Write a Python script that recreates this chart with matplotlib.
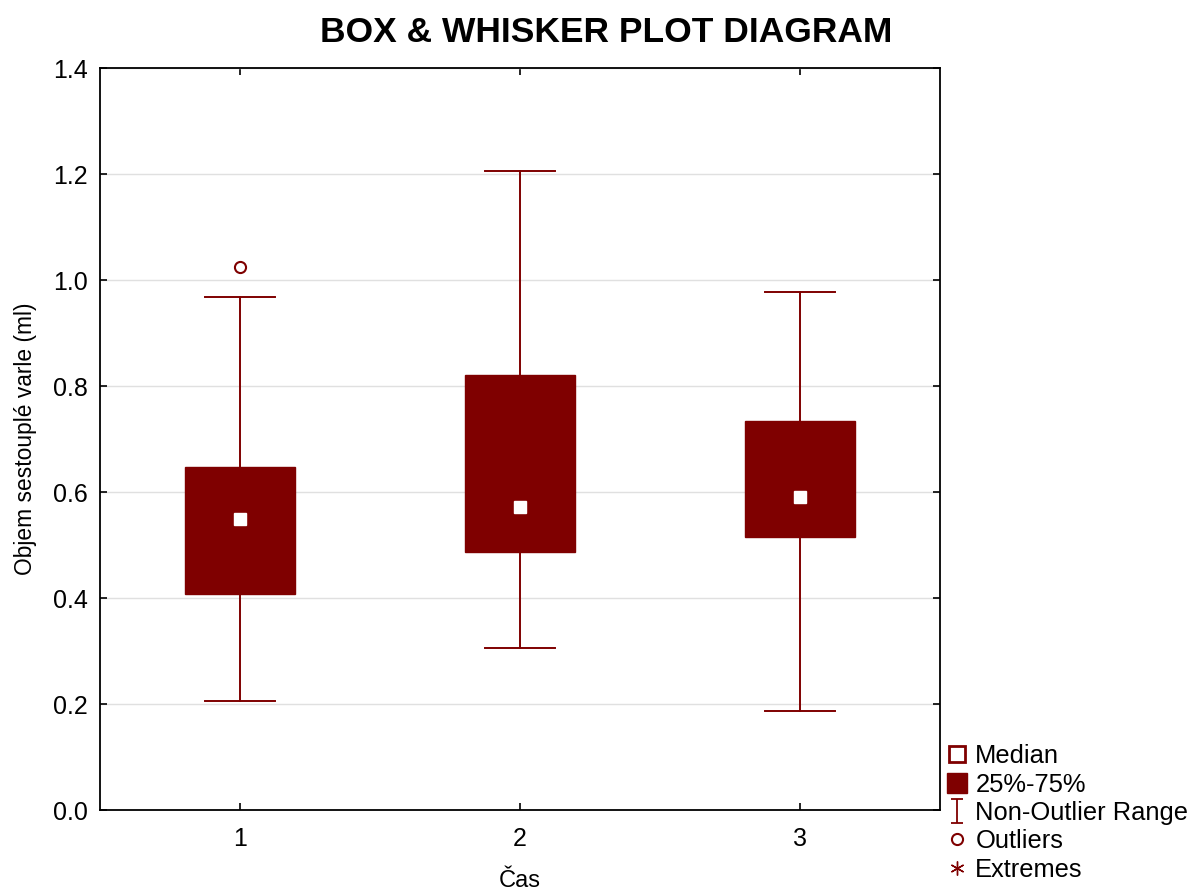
import numpy as np
import matplotlib.pyplot as plt
from matplotlib.lines import Line2D
from matplotlib.path import Path

plt.rcParams['font.family'] = ['Liberation Sans', 'DejaVu Sans']

groups = [1, 2, 3]
q1 = [0.408, 0.487, 0.515]
q3 = [0.647, 0.821, 0.734]
medians = [0.549, 0.572, 0.591]
whis_lo = [0.206, 0.306, 0.186]
whis_hi = [0.968, 1.206, 0.977]
outliers = [[1.025], [], []]

dark_red = '#7f0000'

fig = plt.figure(figsize=(11.92, 8.92), dpi=100)
ax = fig.add_axes([100 / 1192, 82 / 892, 840 / 1192, 742 / 892])

stats = []
for i in range(len(groups)):
    stats.append(dict(med=medians[i], q1=q1[i], q3=q3[i],
                      whislo=whis_lo[i], whishi=whis_hi[i],
                      fliers=outliers[i], label=str(groups[i])))

ax.bxp(stats, positions=groups, widths=0.39, patch_artist=True,
       boxprops=dict(facecolor=dark_red, edgecolor=dark_red, linewidth=1),
       whiskerprops=dict(color=dark_red, linewidth=1.4),
       capprops=dict(color=dark_red, linewidth=1.4),
       capwidths=0.25,
       medianprops=dict(linewidth=0),
       flierprops=dict(marker='o', markerfacecolor='none', markeredgecolor=dark_red,
                       markersize=8, markeredgewidth=1.5),
       zorder=3)
ax.plot(groups, medians, 's', color='white', markersize=9, zorder=4, linestyle='none')

ax.set_xlim(0.5, 3.5)
ax.set_ylim(0, 1.4)
ax.set_yticks(np.arange(0, 1.41, 0.2))
ax.set_yticklabels([f'{v:.1f}' for v in np.arange(0, 1.41, 0.2)])
ax.set_xticks(groups)
ax.set_xticklabels([str(g) for g in groups])
ax.yaxis.grid(True, color='#e0e0e0', linewidth=1)
ax.set_axisbelow(True)
ax.tick_params(direction='in', labelsize=18, length=5, right=True, top=True, width=1.2)
ax.tick_params(axis='x', pad=12)
ax.tick_params(axis='y', pad=9)
for s in ax.spines.values():
    s.set_linewidth(1.3)

ax.set_xlabel('Čas', fontsize=17, labelpad=14)
ax.set_ylabel('Objem sestouplé varle (ml)', fontsize=16.4, labelpad=11)

fig.text(606 / 1192, 1 - 33 / 892, 'BOX & WHISKER PLOT DIAGRAM', ha='center', va='center',
         fontsize=25.5, fontweight='bold')

# I-shaped marker for the whisker entry
i_path = Path([(-0.5, 1), (0.5, 1), (0, 1), (0, -1), (-0.5, -1), (0.5, -1)],
              [Path.MOVETO, Path.LINETO, Path.MOVETO, Path.LINETO, Path.MOVETO, Path.LINETO])

handles = [
    Line2D([], [], marker='s', markerfacecolor='white', markeredgecolor=dark_red,
           markeredgewidth=2, markersize=12, linestyle='none'),
    Line2D([], [], marker='s', color=dark_red, markersize=14, linestyle='none'),
    Line2D([], [], marker=i_path, markerfacecolor='none', markeredgecolor=dark_red,
           markeredgewidth=1.3, markersize=17, linestyle='none'),
    Line2D([], [], marker='o', markerfacecolor='none', markeredgecolor=dark_red,
           markersize=8, markeredgewidth=1.5, linestyle='none'),
    Line2D([], [], marker=(6, 2, 0), color=dark_red, markersize=10, linestyle='none'),
]
labels = ['Median', '25%-75%', 'Non-Outlier Range', 'Outliers', 'Extremes']
fig.legend(handles, labels, loc='lower left', bbox_to_anchor=(937 / 1192, 0),
           frameon=False, fontsize=18.4, handlelength=0.8, handletextpad=0.3,
           labelspacing=0.17, borderaxespad=0)

fig.savefig('out.png', dpi=100)
